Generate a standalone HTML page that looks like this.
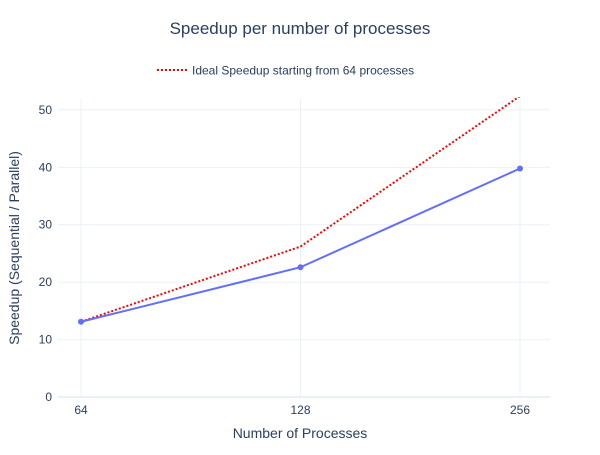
<!DOCTYPE html>
<html><head><meta charset="utf-8"><style>
body{margin:0;background:#fff;font-family:"Liberation Sans",sans-serif;}
svg text{font-family:"Liberation Sans",sans-serif;fill:#2a3f5f;}
</style></head><body>
<svg width="600" height="450" id="chart">
<rect width="600" height="450" fill="#fff"/>
<text x="300" y="34" text-anchor="middle" font-size="17">Speedup per number of processes</text>
<g>
<line x1="157" y1="70" x2="187" y2="70" stroke="#ff0000" stroke-width="2" stroke-dasharray="2,2"/>
<text x="192" y="74.5" font-size="12">Ideal Speedup starting from 64 processes</text>
</g>
<g id="grid"></g>
<g id="marks"></g>
<text x="300" y="438" text-anchor="middle" font-size="14">Number of Processes</text>
<text transform="translate(19,248) rotate(-90)" text-anchor="middle" font-size="14">Speedup (Sequential / Parallel)</text>
</svg>
<script>
const categories=[64,128,256];
const actualSpeedup=[13.1,22.6,39.8];
const idealSpeedup=[13.1,26.2,52.4];
const yTicks=[0,10,20,30,40,50];
const NS="http://www.w3.org/2000/svg";
const L=58,R=550,T=99,B=397,yMax=51.9;
function xs(i){return 81+i*(520-81)/(categories.length-1);}
function ys(v){return B-(v/yMax)*(B-T);}
function mk(t,a,p){const e=document.createElementNS(NS,t);for(const k in a)e.setAttribute(k,a[k]);p.appendChild(e);return e;}
const grid=document.getElementById('grid'),marks=document.getElementById('marks');
yTicks.forEach(v=>{
 const y=ys(v);
 const l=mk('line',{x1:L,x2:R,y1:y,y2:y,stroke:v===0?'#ebf0f8':'#ebf0f8','stroke-width':v===0?2:1},grid);
 
 
 const t=mk('text',{x:52,y:y+4,'text-anchor':'end','font-size':12},grid);t.textContent=v;
 
 
});
categories.forEach((c,i)=>{
 const x=xs(i);
 const l=mk('line',{x1:x,x2:x,y1:T,y2:B,stroke:'#ebf0f8'},grid);
 
 
 const t=mk('text',{x:x,y:414,'text-anchor':'middle','font-size':12},grid);t.textContent=c;
 
 
});
mk('clipPath',{id:'clip'},marks);
mk('rect',{x:L,y:T-2,width:R-L,height:B-T+4},document.getElementById('clip'));
const ideal=mk('polyline',{points:idealSpeedup.map((v,i)=>xs(i)+','+ys(v)).join(' '),fill:'none',stroke:'#ff0000','stroke-width':2,'stroke-dasharray':'2,2','clip-path':'url(#clip)'},marks);


const act=mk('polyline',{points:actualSpeedup.map((v,i)=>xs(i)+','+ys(v)).join(' '),fill:'none',stroke:'#636efa','stroke-width':2},marks);


actualSpeedup.forEach((v,i)=>{
 const c=mk('circle',{cx:xs(i),cy:ys(v),r:3,fill:'#636efa'},marks);
 
 
});
</script>
</body></html>
